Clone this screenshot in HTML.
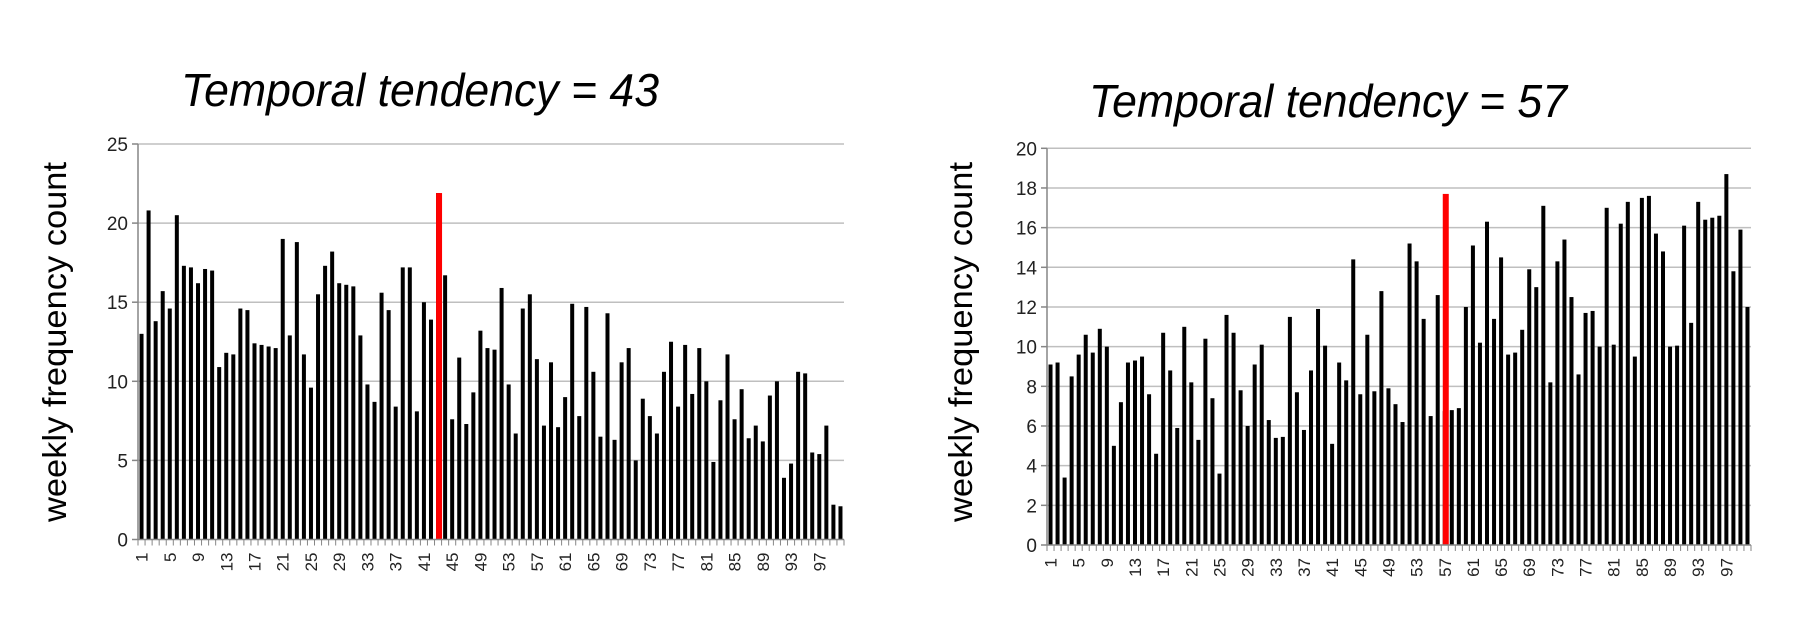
<!DOCTYPE html>
<html><head><meta charset="utf-8"><style>
body{margin:0;background:#fff;}
svg{display:block;font-family:"Liberation Sans",sans-serif;}
</style></head><body>
<svg id="chart" width="1800" height="630" viewBox="0 0 1800 630" xmlns="http://www.w3.org/2000/svg">
<text x="181" y="106" font-size="46" font-style="italic" textLength="478" lengthAdjust="spacingAndGlyphs">Temporal tendency = 43</text>
<text x="1089" y="117" font-size="46" font-style="italic" textLength="478" lengthAdjust="spacingAndGlyphs">Temporal tendency = 57</text>
<text transform="translate(66,342) rotate(-90)" text-anchor="middle" font-size="33" textLength="360" lengthAdjust="spacingAndGlyphs">weekly frequency count</text>
<text transform="translate(972,342) rotate(-90)" text-anchor="middle" font-size="33" textLength="360" lengthAdjust="spacingAndGlyphs">weekly frequency count</text>
</svg>
<script>
const leftValues=[13.0,20.8,13.8,15.7,14.6,20.5,17.3,17.2,16.2,17.1,17.0,10.9,11.8,11.7,14.6,14.5,12.4,12.3,12.2,12.1,19.0,12.9,18.8,11.7,9.6,15.5,17.3,18.2,16.2,16.1,16.0,12.9,9.8,8.7,15.6,14.5,8.4,17.2,17.2,8.1,15.0,13.9,21.9,16.7,7.6,11.5,7.3,9.3,13.2,12.1,12.0,15.9,9.8,6.7,14.6,15.5,11.4,7.2,11.2,7.1,9.0,14.9,7.8,14.7,10.6,6.5,14.3,6.3,11.2,12.1,5.0,8.9,7.8,6.7,10.6,12.5,8.4,12.3,9.2,12.1,10.0,4.9,8.8,11.7,7.6,9.5,6.4,7.2,6.2,9.1,10.0,3.9,4.8,10.6,10.5,5.5,5.4,7.2,2.2,2.1];
const rightValues=[9.1,9.2,3.4,8.5,9.6,10.6,9.7,10.9,10.0,5.0,7.2,9.2,9.3,9.5,7.6,4.6,10.7,8.8,5.9,11.0,8.2,5.3,10.4,7.4,3.6,11.6,10.7,7.8,6.0,9.1,10.1,6.3,5.4,5.45,11.5,7.7,5.8,8.8,11.9,10.05,5.1,9.2,8.3,14.4,7.6,10.6,7.75,12.8,7.9,7.1,6.2,15.2,14.3,11.4,6.5,12.6,6.75,6.8,6.9,12.0,15.1,10.2,16.3,11.4,14.5,9.6,9.7,10.85,13.9,13.0,17.1,8.2,14.3,15.4,12.5,8.6,11.7,11.8,10.0,17.0,10.1,16.2,17.3,9.5,17.5,17.6,15.7,14.8,10.0,10.05,16.1,11.2,17.3,16.4,16.5,16.6,18.7,13.8,15.9,12.0];
const leftTicks=[0,5,10,15,20,25];
const rightTicks=[0,2,4,6,8,10,12,14,16,18,20];
const leftMarker={index:43,value:21.9};
const rightMarker={index:57,value:17.7};

const NS="http://www.w3.org/2000/svg";
const svg=document.getElementById('chart');
function mk(tag,attrs,parent){const e=document.createElementNS(NS,tag);for(const k in attrs)e.setAttribute(k,attrs[k]);(parent||svg).appendChild(e);return e;}

function drawChart(prefix,values,ticks,marker,x0,x1,yTop,yBottom,ymax){
  const g=mk('g',{});
  
  
  const n=values.length, slot=(x1-x0)/n;
  const yS=v=>yBottom-(v/ymax)*(yBottom-yTop);
  const xS=i=>x0+(i+0.5)*slot;
  ticks.forEach(t=>{
    const y=yS(t);
    if(t>0){const l=mk('line',{x1:x0,x2:x1,y1:y,y2:y,stroke:'#bfbfbf','stroke-width':1.5},g);
      
      }
    mk('line',{x1:x0-6,x2:x0,y1:y,y2:y,stroke:'#868686','stroke-width':1.5},g);
    const tx=mk('text',{x:x0-10,y:y+7,'text-anchor':'end','font-size':19,fill:'#222'},g);
    tx.textContent=t;
    
    
  });
  values.forEach((v,i)=>{
    const r=mk('rect',{x:xS(i)-2,y:yS(v),width:4,height:yBottom-yS(v),fill:'#000'},g);
    
    
  });
  const m=marker.index-1;
  const rr=mk('rect',{x:xS(m)-3+1,y:yS(marker.value),width:6,height:yBottom-yS(marker.value),fill:'#ff0000'},g);
  
  
  mk('line',{x1:x0,x2:x0,y1:yTop,y2:yBottom,stroke:'#868686','stroke-width':1.5},g);
  mk('line',{x1:x0,x2:x1,y1:yBottom,y2:yBottom,stroke:'#868686','stroke-width':1.5},g);
  for(let i=0;i<=n;i++){mk('line',{x1:x0+i*slot,x2:x0+i*slot,y1:yBottom,y2:yBottom+6,stroke:'#868686','stroke-width':1},g);}
  for(let i=0;i<n;i+=4){
    const x=xS(i);
    const t=mk('text',{transform:'translate('+(x+6)+','+(yBottom+13)+') rotate(-90)','text-anchor':'end','font-size':17,fill:'#222'},g);
    t.textContent=i+1;
    
    
  }
}
drawChart('left',leftValues,leftTicks,leftMarker,138,844,144,539.5,25);
drawChart('right',rightValues,rightTicks,rightMarker,1047,1751,148.3,545,20);
</script>
</body></html>
